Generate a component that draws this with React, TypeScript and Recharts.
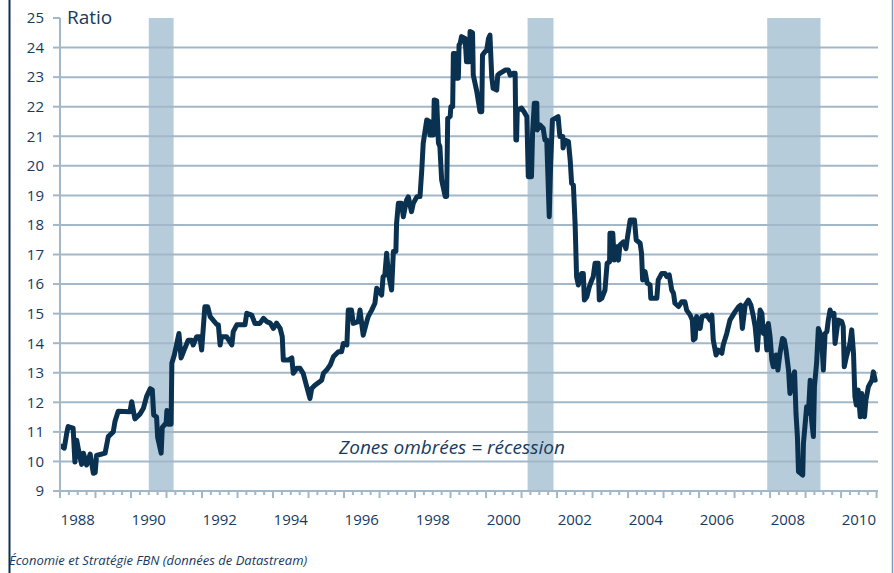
import { LineChart, Line, XAxis, YAxis, ReferenceArea, ReferenceLine } from 'recharts';

const FONT = '"Open Sans", "DejaVu Sans", sans-serif';
const INK = '#173a5e';
const GRID = '#a2b8c9';
const LINE = '#0b3150';
const BAND = '#8fb0c6';

// ratio (fractional years)
const years1988 = [
  1988.0, 1988.03, 1988.12, 1988.19, 1988.23, 1988.37, 1988.42, 1988.47, 1988.52, 1988.61, 1988.66,
  1988.75, 1988.85, 1988.94, 1988.99, 1989.03, 1989.27, 1989.36, 1989.5, 1989.55, 1989.64, 1989.97,
  1990.02, 1990.11, 1990.25, 1990.35, 1990.44, 1990.54, 1990.6, 1990.64, 1990.72, 1990.75, 1990.85,
  1990.88, 1990.99, 1991.01, 1991.05, 1991.13, 1991.15, 1991.22, 1991.35, 1991.41, 1991.52, 1991.61,
  1991.71, 1991.75, 1991.85, 1991.94, 1991.99, 1992.08, 1992.16, 1992.23, 1992.41, 1992.46, 1992.51,
  1992.55, 1992.69, 1992.84, 1992.88,
];
const ratio1988 = [
  10.5, 10.52, 10.45, 10.96, 11.18, 11.13, 9.98, 10.72, 10.4, 9.9, 10.28,
  9.88, 10.25, 9.6, 9.62, 10.2, 10.28, 10.84, 11.0, 11.36, 11.7, 11.68,
  12.02, 11.44, 11.6, 11.8, 12.2, 12.46, 12.42, 11.57, 11.5, 10.82, 10.28,
  11.15, 11.3, 11.72, 11.26, 11.26, 13.32, 13.6, 14.33, 13.5, 13.84, 14.1,
  14.1, 13.94, 14.22, 14.22, 13.77, 15.23, 15.23, 14.9, 14.64, 14.62, 13.94,
  14.22, 14.22, 13.94, 14.39,
];

const years1993 = [
  1992.98, 1993.21, 1993.26, 1993.4, 1993.49, 1993.63, 1993.73, 1993.82, 1993.92, 1994.01, 1994.1,
  1994.2, 1994.26, 1994.29, 1994.43, 1994.53, 1994.57, 1994.67, 1994.76, 1994.85, 1994.95, 1995.04,
  1995.09, 1995.18, 1995.37, 1995.42, 1995.51, 1995.61, 1995.7, 1995.84, 1995.93, 1995.98, 1996.08,
  1996.12, 1996.21, 1996.26, 1996.4, 1996.45, 1996.54, 1996.64, 1996.68, 1996.78, 1996.87,
];
const ratio1993 = [
  14.62, 14.62, 15.01, 14.95, 14.67, 14.67, 14.84, 14.73, 14.68, 14.5, 14.68,
  14.5, 14.22, 13.43, 13.43, 13.5, 12.98, 13.15, 13.15, 12.98, 12.53, 12.13,
  12.47, 12.58, 12.75, 12.98, 13.09, 13.26, 13.54, 13.71, 13.71, 13.99, 13.94,
  15.12, 15.12, 14.67, 14.73, 15.12, 14.27, 14.73, 14.9, 15.12, 15.35,
];

const years1997 = [
  1996.92, 1997.06, 1997.1, 1997.15, 1997.2, 1997.25, 1997.34, 1997.39, 1997.46, 1997.48, 1997.53,
  1997.62, 1997.67, 1997.76, 1997.81, 1997.9, 1997.95, 1998.05, 1998.14, 1998.19, 1998.23, 1998.33,
  1998.4, 1998.42, 1998.52, 1998.54, 1998.61, 1998.66, 1998.7, 1998.75, 1998.85, 1998.89, 1998.92,
  1998.99, 1999.01, 1999.06, 1999.08, 1999.13, 1999.15, 1999.22, 1999.24, 1999.27, 1999.31, 1999.41,
  1999.45, 1999.53, 1999.55, 1999.62, 1999.64, 1999.69, 1999.74, 1999.83, 1999.88, 1999.9, 1999.97,
  2000.02, 2000.07, 2000.11, 2000.16, 2000.2, 2000.3, 2000.33, 2000.39, 2000.54, 2000.63, 2000.68,
  2000.77, 2000.82, 2000.84, 2000.86, 2000.88, 2001.0, 2001.07, 2001.15, 2001.19, 2001.28, 2001.31,
  2001.36, 2001.43, 2001.44, 2001.52, 2001.61, 2001.66, 2001.71, 2001.78, 2001.82, 2001.87,
];
const ratio1997 = [
  15.86, 15.63, 16.25, 16.31, 17.04, 16.36, 15.8, 17.1, 17.1, 18.05, 18.73,
  18.73, 18.28, 18.84, 18.95, 18.45, 18.73, 18.95, 18.96, 19.86, 20.76, 21.55,
  21.5, 21.04, 21.04, 22.23, 22.2, 20.76, 20.65, 19.52, 18.96, 18.96, 21.6,
  21.67, 22.0, 22.0, 23.8, 23.8, 22.96, 22.96, 24.09, 24.14, 24.37, 24.31,
  23.52, 23.52, 24.54, 24.5, 23.07, 22.79, 22.51, 21.83, 21.83, 23.75, 23.86,
  23.92, 24.31, 24.42, 23.02, 22.62, 22.56, 23.07, 23.13, 23.24, 23.24, 23.07,
  23.13, 23.13, 20.87, 20.87, 21.89, 21.95, 21.83, 21.66, 19.63, 19.63, 21.1,
  22.12, 22.12, 21.21, 21.38, 21.27, 20.87, 20.87, 18.28, 20.08, 21.55,
];

const years2002 = [
  2002.03, 2002.08, 2002.16, 2002.17, 2002.22, 2002.32, 2002.37, 2002.41, 2002.46, 2002.51, 2002.55,
  2002.6, 2002.69, 2002.74, 2002.77, 2002.84, 2002.91, 2002.98, 2003.02, 2003.07, 2003.16, 2003.19,
  2003.26, 2003.35, 2003.41, 2003.48, 2003.49, 2003.57, 2003.61, 2003.68, 2003.73, 2003.77, 2003.87,
  2003.94, 2003.98, 2004.06, 2004.18, 2004.23, 2004.34, 2004.38, 2004.41, 2004.48, 2004.54, 2004.62,
  2004.64, 2004.81, 2004.85, 2004.95, 2005.04, 2005.09, 2005.16, 2005.23, 2005.28, 2005.32, 2005.42,
  2005.51, 2005.6, 2005.65, 2005.75, 2005.81, 2005.84, 2005.89, 2005.93, 2006.03, 2006.08, 2006.22,
  2006.31, 2006.36, 2006.4, 2006.48, 2006.54, 2006.64, 2006.68, 2006.78, 2006.87,
];
const ratio2002 = [
  21.66, 20.99, 20.99, 20.6, 20.87, 20.82, 20.2, 19.41, 19.35, 18.0, 16.25,
  15.97, 16.36, 16.36, 15.46, 15.57, 15.91, 16.14, 16.25, 16.7, 16.7, 15.46,
  15.52, 15.8, 16.7, 16.76, 17.72, 17.72, 16.81, 17.26, 16.81, 17.32, 17.43,
  17.2, 17.55, 18.17, 18.17, 17.49, 17.38, 17.04, 16.14, 16.42, 16.03, 15.97,
  15.52, 15.52, 16.14, 16.36, 16.36, 16.25, 16.31, 15.8, 15.69, 15.35, 15.24,
  15.4, 15.4, 15.12, 14.95, 14.78, 14.11, 14.16, 14.9, 14.5, 14.9, 14.95,
  14.78, 14.95, 14.11, 13.6, 13.77, 13.66, 13.94, 14.33, 14.78,
];

const years2007 = [
  2007.01, 2007.11, 2007.17, 2007.22, 2007.3, 2007.39, 2007.46, 2007.53, 2007.58, 2007.64, 2007.72,
  2007.77, 2007.81, 2007.86, 2007.91, 2007.95, 2008.0, 2008.05, 2008.09, 2008.17, 2008.22, 2008.28,
  2008.35, 2008.4, 2008.45, 2008.52, 2008.56, 2008.66, 2008.69, 2008.73, 2008.77, 2008.8, 2008.86,
  2008.92, 2008.94, 2008.99, 2009.03, 2009.08, 2009.13, 2009.17, 2009.22, 2009.25, 2009.31, 2009.36,
  2009.41, 2009.46, 2009.5, 2009.55, 2009.6, 2009.64, 2009.69, 2009.74, 2009.8, 2009.83, 2009.88,
  2009.92, 2010.02, 2010.06, 2010.09, 2010.15, 2010.25, 2010.3, 2010.35, 2010.39, 2010.43, 2010.48,
  2010.54, 2010.58, 2010.66, 2010.7, 2010.77, 2010.87, 2010.91, 2010.96,
];
const ratio2007 = [
  15.06, 15.23, 15.29, 14.5, 15.29, 15.46, 15.29, 14.9, 14.56, 13.77, 15.12,
  15.01, 14.33, 14.56, 13.77, 14.67, 14.22, 13.43, 13.2, 13.6, 13.09, 13.66,
  14.16, 14.11, 13.77, 13.09, 12.3, 12.92, 13.03, 11.63, 10.84, 9.65, 9.6,
  9.54, 10.61, 11.29, 11.85, 11.63, 12.75, 11.4, 10.84, 12.53, 13.32, 14.5,
  14.33, 13.99, 13.09, 14.33, 14.39, 14.78, 15.12, 14.95, 15.01, 13.99, 14.45,
  14.78, 14.73, 14.56, 13.2, 13.54, 13.99, 14.45, 13.66, 12.19, 11.91, 12.42,
  11.51, 12.3, 11.51, 12.08, 12.53, 12.75, 13.03, 12.75,
];

const recessionStarts = [1990.5, 2001.17, 2007.92];
const recessionEnds = [1991.2, 2001.9, 2009.42];

const yTicks = [9, 10, 11, 12, 13, 14, 15, 16, 17, 18, 19, 20, 21, 22, 23, 24, 25];
const gridValues = yTicks.filter((v) => v < 25);
const yearLabels = [1988, 1990, 1992, 1994, 1996, 1998, 2000, 2002, 2004, 2006, 2008, 2010];

const quarterTicks: number[] = [];
for (let q = 0; q <= 23 * 4; q++) quarterTicks.push(1988 + q / 4);

const allYears = [...years1988, ...years1993, ...years1997, ...years2002, ...years2007];
const allRatio = [...ratio1988, ...ratio1993, ...ratio1997, ...ratio2002, ...ratio2007];
const data = allYears.map((t, i) => ({ t, ratio: allRatio[i] }));

const W = 894;
const H = 573;

function XTick({ x, y, payload }: any) {
  const v = payload.value as number;
  const yr = Math.round(v);
  const isYear = Math.abs(v - yr) < 1e-6;
  const showLabel = isYear && yearLabels.includes(yr);
  return (
    <g>
      <line x1={x} x2={x} y1={y} y2={y + (isYear ? 7 : 4)} stroke={GRID} strokeWidth={2} />
      {showLabel && (
        <text x={x + 17.75} y={y + 34} textAnchor="middle" fill={INK} fontSize={15} fontFamily={FONT}>
          {yr}
        </text>
      )}
    </g>
  );
}

export default function App() {
  return (
    <div style={{ position: 'absolute', left: 0, top: 0, width: W, height: H, background: '#fff' }}>
      <LineChart width={W} height={H} data={data} margin={{ top: 18, right: 16, bottom: 42, left: 0 }}>
        <XAxis
          dataKey="t"
          type="number"
          domain={[1988, 2011.04]}
          allowDataOverflow
          ticks={quarterTicks}
          interval={0}
          axisLine={false}
          tickLine={false}
          tickSize={0}
          tickMargin={0}
          height={40}
          tick={<XTick />}
        />
        <YAxis
          domain={[9, 25]}
          ticks={yTicks}
          interval={0}
          width={60}
          axisLine={{ stroke: GRID, strokeWidth: 2 }}
          tickLine={{ stroke: GRID, strokeWidth: 2 }}
          tickSize={7}
          tickMargin={9}
          tick={{ fill: INK, fontSize: 15, fontFamily: FONT }}
        />
        {gridValues.map((v) => (
          <ReferenceLine key={`g${v}`} y={v} stroke={GRID} strokeWidth={2} />
        ))}
        {recessionStarts.map((s, i) => (
          <ReferenceArea
            key={`r${i}`}
            x1={s}
            x2={recessionEnds[i]}
            y1={9}
            y2={25}
            fill={BAND}
            fillOpacity={0.65}
            stroke="none"
          />
        ))}
        <Line
          dataKey="ratio"
          type="linear"
          stroke={LINE}
          strokeWidth={5}
          strokeLinejoin="round"
          strokeLinecap="round"
          dot={false}
          isAnimationActive={false}
        />
      </LineChart>
      <svg width={W} height={H} style={{ position: 'absolute', left: 0, top: 0, pointerEvents: 'none' }}>
        <line x1={9.5} x2={9.5} y1={0} y2={H} stroke={LINE} strokeWidth={2} />
        <line x1={892.5} x2={892.5} y1={0} y2={H} stroke="#7f9aae" strokeWidth={1.5} />
        <text x={67} y={24} fill={INK} fontSize={19} fontFamily={FONT}>
          Ratio
        </text>
        <text x={452} y={454} textAnchor="middle" fill={INK} fontSize={19} fontStyle="italic" fontFamily={FONT}>
          Zones ombrées = récession
        </text>
        <text x={9} y={565} fill={INK} fontSize={13} fontStyle="italic" fontFamily={FONT}>
          Économie et Stratégie FBN (données de Datastream)
        </text>
      </svg>
    </div>
  );
}
